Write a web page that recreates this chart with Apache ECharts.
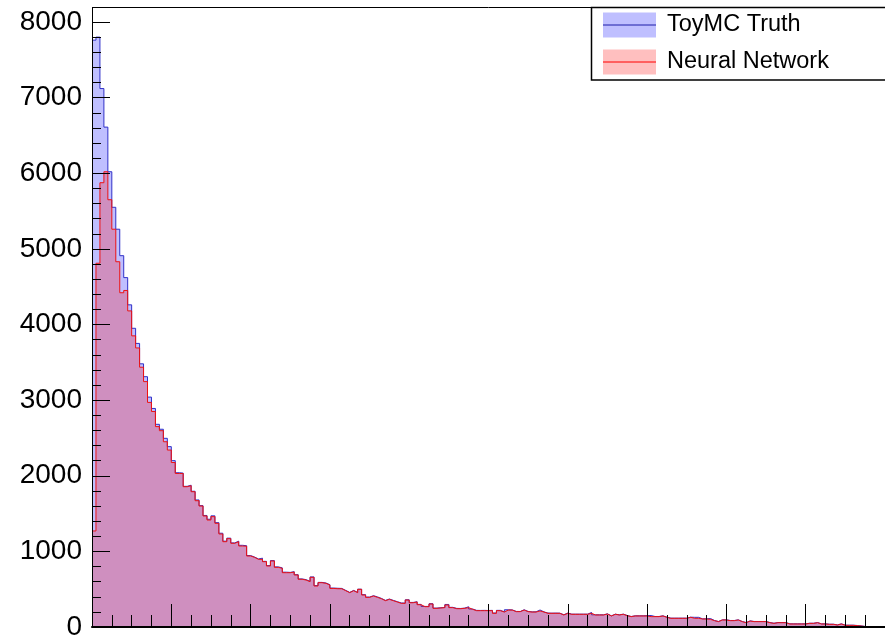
<!DOCTYPE html>
<html>
<head>
<meta charset="utf-8">
<script src="https://cdn.jsdelivr.net/npm/echarts@6/dist/echarts.min.js"></script>
<style>
html,body{margin:0;padding:0;background:#fff;}
#chart{width:885px;height:644px;}
</style>
</head>
<body>
<div id="chart"></div>
<script>
// Histogram bin contents (200 equal-width bins)
var truthCounts = [
7760,7800,7120,6610,6020,5550,5260,4910,4620,4260,
3950,3750,3480,3310,3040,2890,2680,2615,2495,2385,
2200,2040,2035,1860,1875,1795,1680,1605,1475,1425,
1470,1380,1240,1135,1175,1112,1135,1080,1075,945,
925,900,910,868,812,878,795,782,725,722,
732,692,636,626,604,662,548,590,582,560,
515,512,510,484,458,484,458,500,428,396,
414,398,378,352,370,352,335,318,316,360,
325,334,299,272,272,308,250,255,258,298,
260,246,245,250,268,238,220,219,220,218,
220,185,220,200,228,226,206,205,228,206,
200,201,225,200,184,183,184,183,162,184,
170,170,170,170,170,192,161,161,161,174,
148,170,161,170,152,139,148,148,148,150,
152,139,139,148,130,117,117,117,117,117,
130,128,128,108,108,112,86,73,95,95,
86,86,95,73,59,81,73,73,73,73,
59,50,59,59,59,42,42,42,42,42,
50,50,59,42,42,37,37,28,42,24,
24,24,20,15,7,5,4,3,2,1
];
var networkCounts = [
1270,4810,5875,6020,5650,5260,4830,4420,4450,4180,
3850,3690,3435,3245,2970,2850,2650,2596,2450,2340,
2175,2030,2030,1855,1868,1789,1670,1600,1468,1415,
1459,1371,1230,1128,1168,1107,1128,1071,1068,939,
921,895,895,864,807,873,789,776,718,718,
727,688,631,621,599,657,542,586,578,555,
510,506,506,480,454,480,454,498,423,392,
410,392,374,348,366,348,331,313,313,357,
321,331,295,269,269,304,247,252,256,291,
256,242,242,247,256,234,216,216,216,216,
216,181,216,198,224,224,203,203,224,203,
198,198,212,198,181,181,181,181,159,181,
168,168,168,168,168,181,159,159,159,172,
146,168,159,168,150,137,146,146,146,146,
137,137,137,146,128,115,115,115,115,115,
128,115,115,106,106,101,84,71,93,93,
84,84,93,71,57,79,71,71,71,71,
57,48,57,57,57,40,40,40,40,40,
48,48,57,40,40,35,35,26,40,22,
22,22,18,13,6,4,3,2,2,1
];
var seriesNames = ['ToyMC Truth', 'Neural Network'];
var yTickValues = [0,1000,2000,3000,4000,5000,6000,7000,8000];

function toSteps(counts){
  var pts = counts.map(function(v,i){ return [i, v]; });
  pts.push([counts.length, counts[counts.length-1]]);
  return pts;
}

var chart = echarts.init(document.getElementById('chart'), null, {renderer:'canvas'});
var FONT = 'Liberation Sans, Arial, Helvetica, sans-serif';
var option = {
  backgroundColor: '#ffffff',
  animation: false,
  grid: {left: 92, top: 22, width: 800, height: 605, containLabel: false},
  xAxis: {
    type: 'value', min: 0, max: truthCounts.length, interval: 20,
    z: 10,
    axisLine: {show: true, onZero: false, lineStyle: {color: '#000', width: 2}},
    axisTick: {show: true, inside: true, length: 23, lineStyle: {color: '#000', width: 1}},
    minorTick: {show: true, splitNumber: 4, length: 12, lineStyle: {color: '#000', width: 1}},
    axisLabel: {show: false},
    splitLine: {show: false}
  },
  yAxis: {
    type: 'value', min: yTickValues[0], max: yTickValues[yTickValues.length-1], interval: 1000,
    z: 10,
    axisLine: {show: true, lineStyle: {color: '#000', width: 1}},
    axisTick: {show: true, inside: true, length: 18, lineStyle: {color: '#000', width: 1}},
    minorTick: {show: true, splitNumber: 5, length: 9, lineStyle: {color: '#000', width: 1}},
    axisLabel: {show: true, color: '#000', fontSize: 28, fontFamily: FONT, margin: 10,
      formatter: function(v){ return String(v); }},
    splitLine: {show: false}
  },
  legend: {
    orient: 'vertical', left: 603, top: 12.5, padding: 0, itemGap: 12,
    itemWidth: 53, itemHeight: 25, z: 5,
    textStyle: {color: '#000', fontSize: 23.5, fontFamily: FONT, lineHeight: 25, padding: [0,0,0,6]},
    data: [
      {name: seriesNames[0], icon: 'rect', itemStyle: {color: 'rgba(0,0,255,0.25)', borderWidth: 0}},
      {name: seriesNames[1], icon: 'rect', itemStyle: {color: 'rgba(255,0,0,0.25)', borderWidth: 0}}
    ]
  },
  graphic: [
    {type: 'line', z: 1, shape: {x1: 92, y1: 7.5, x2: 885, y2: 7.5}, style: {stroke: '#000', lineWidth: 1}},
    {type: 'line', z: 1, shape: {x1: 92.5, y1: 7.5, x2: 92.5, y2: 22}, style: {stroke: '#000', lineWidth: 1}},
    {type: 'rect', z: 3, shape: {x: 591.5, y: 7.5, width: 320, height: 72.5}, style: {fill: '#fff', stroke: '#000', lineWidth: 1.5}},
    {type: 'line', z: 6, shape: {x1: 603, y1: 25, x2: 656, y2: 25}, style: {stroke: '#1c1ca8', lineWidth: 1}},
    {type: 'line', z: 6, shape: {x1: 603, y1: 62, x2: 656, y2: 62}, style: {stroke: '#ff0000', lineWidth: 1}}
  ],
  series: [
    {
      name: seriesNames[0], type: 'line', step: 'end', symbol: 'none', z: 2,
      data: toSteps(truthCounts),
      lineStyle: {color: '#3030c8', width: 1},
      itemStyle: {color: '#3030c8'},
      areaStyle: {color: 'rgba(0,0,255,0.25)', opacity: 1, origin: 'start'}
    },
    {
      name: seriesNames[1], type: 'line', step: 'end', symbol: 'none', z: 3,
      data: toSteps(networkCounts),
      lineStyle: {color: '#ee1111', width: 1},
      itemStyle: {color: '#ee1111'},
      areaStyle: {color: 'rgba(255,0,0,0.25)', opacity: 1, origin: 'start'}
    }
  ]
};
chart.setOption(option);
</script>
</body>
</html>
